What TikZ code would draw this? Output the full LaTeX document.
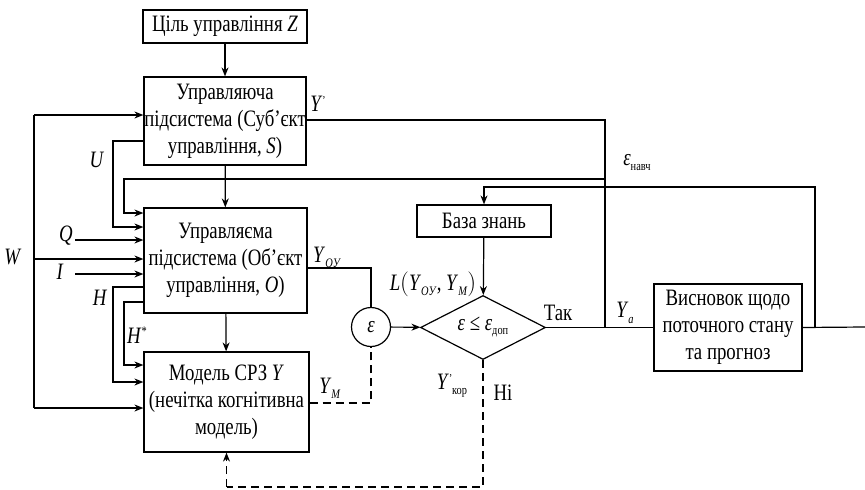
\documentclass[tikz,border=0pt]{standalone}
\usepackage{fontspec}
\setmainfont{Liberation Serif}[FakeStretch=0.8]
\usetikzlibrary{shapes.geometric,arrows.meta}
\begin{document}
\begin{tikzpicture}[x=1pt,y=-1pt,
  every node/.style={font=\fontsize{23.5}{27}\selectfont},
  blk/.style={draw,line width=1.2pt,inner sep=0pt,align=center},
  ln/.style={line width=1.2pt},
  arr/.style={line width=1.2pt,-{Stealth[length=9pt,width=7pt]}},
  dsh/.style={line width=1.2pt,dash pattern=on 8pt off 5pt},
  lbl/.style={inner sep=0pt}]
\useasboundingbox (0,0) rectangle (865,490);
% blocks
\node[blk,minimum width=164,minimum height=33] (goal) at (225,26.5) {Ціль управління \textit{Z}};
\node[blk,minimum width=162,minimum height=88] (S) at (225,121) {Управляюча\\підсистема (Суб’єкт\\управління, \textit{S})};
\node[blk,minimum width=163,minimum height=105] (O) at (225.5,260.5) {Управляєма\\підсистема (Об’єкт\\управління, \textit{O})};
\node[blk,minimum width=165,minimum height=100] (M) at (226.5,402) {Модель СРЗ \textit{Y}\\(нечітка когнітивна\\модель)};
\node[blk,minimum width=134,minimum height=32] (kb) at (484,221) {База знань};
\node[draw,line width=1.2pt,diamond,aspect=1.95,inner sep=0pt,minimum width=125,minimum height=64] (dec) at (483,327.5) {\textit{ε} ≤ \textit{ε}\raisebox{-4pt}{\fontsize{13}{15}\selectfont доп}};
\node[draw,line width=1.2pt,circle,inner sep=0pt,minimum size=39] (eps) at (371,327) {\textit{ε}};
\node[blk,minimum width=148,minimum height=87] (concl) at (728,327.5) {Висновок щодо\\поточного стану\\та прогноз};
% coordinates
\coordinate (w1) at (34,115);
\coordinate (w2) at (34,259);
\coordinate (w3) at (34,408);
\coordinate (u0) at (113,141);
\coordinate (u1) at (113,227);
\coordinate (f0) at (605,179);
\coordinate (f1) at (124,179);
\coordinate (f2) at (124,213);
\coordinate (q0) at (75,240);
\coordinate (i0) at (75,274);
\coordinate (h0) at (113,287);
\coordinate (h1) at (113,382);
\coordinate (hs0) at (124,302);
\coordinate (hs1) at (124,365);
\coordinate (y0) at (605,120);
\coordinate (ya) at (605,327);
\coordinate (yo) at (371,268);
\coordinate (ym) at (371,403);
\coordinate (n0) at (815,327);
\coordinate (n1) at (815,187);
\coordinate (n2) at (484,187);
\coordinate (out) at (865,327);
\coordinate (d0) at (483,487);
\coordinate (d1) at (226.5,487);
% connectors
\draw[arr] (goal) -- (S);
\draw[arr] (S) -- (O);
\draw[arr] (O) -- (M);
\draw[ln] (w1) -- (w3);
\draw[arr] (w1) -- (w1 -| S.west);
\draw[arr] (w2) -- (w2 -| O.west);
\draw[arr] (w3) -- (w3 -| M.west);
\draw[arr] (u0 -| S.west) -- (u0) -- (u1) -- (u1 -| O.west);
\draw[arr] (f0) -- (f1) -- (f2) -- (f2 -| O.west);
\draw[arr] (q0) -- (q0 -| O.west);
\draw[arr] (i0) -- (i0 -| O.west);
\draw[arr] (h0 -| O.west) -- (h0) -- (h1) -- (h1 -| M.west);
\draw[arr] (hs0 -| O.west) -- (hs0) -- (hs1) -- (hs1 -| M.west);
\draw[ln] (y0 -| S.east) -- (y0) -- (ya);
\draw[ln] (yo -| O.east) -- (yo) -- (eps.north);
\draw[dsh] (ym -| M.east) -- (ym) -- (eps.south);
\draw[arr] (eps) -- (dec);
\draw[arr] (kb) -- (dec);
\draw[arr] (n0) -- (n1) -- (n2) -- (kb);
\draw[ln] (dec.east) -- (concl.west);
\draw[ln] (concl.east) -- (out);
\draw[dsh] (dec.south) -- (d0) -- (d1);
\draw[dsh,-{Stealth[length=9pt,width=7pt]}] (d1) -- (M.south);
% labels
\node[lbl] (lY) at (318,104) {\textit{Y}\raisebox{7pt}{\fontsize{12}{14}\selectfont '}};
\node[lbl] (lU) at (97,160) {\textit{U}};
\node[lbl] (lQ) at (66,236) {\textit{Q}};
\node[lbl] (lW) at (13,257) {\textit{W}};
\node[lbl] (lI) at (60,272) {\textit{I}};
\node[lbl] (lH) at (100,298) {\textit{H}};
\node[lbl] (lHs) at (137,335) {\textit{H}\raisebox{8pt}{\fontsize{13}{15}\selectfont *}};
\node[lbl] (lYo) at (327,257) {\textit{Y}\raisebox{-5pt}{\fontsize{13}{15}\selectfont\textit{OУ}}};
\node[lbl] (lL) at (433,284) {\textit{L}$\Bigl($\textit{Y}\raisebox{-5pt}{\fontsize{13}{15}\selectfont\textit{OУ}}, \textit{Y}\raisebox{-5pt}{\fontsize{13}{15}\selectfont\textit{M}}$\Bigr)$};
\node[lbl] (lYm) at (330,388) {\textit{Y}\raisebox{-5pt}{\fontsize{13}{15}\selectfont\textit{M}}};
\node[lbl] (lYk) at (452,386) {\textit{Y}\raisebox{7pt}{\fontsize{12}{14}\selectfont '}\raisebox{-5pt}{\fontsize{13}{15}\selectfont кор}};
\node[lbl] (lN) at (503,393) {Ні};
\node[lbl] (lT) at (558,313) {Так};
\node[lbl] (lYa) at (625,313) {\textit{Y}\raisebox{-6pt}{\fontsize{13}{15}\selectfont\textit{a}}};
\node[lbl] (lE) at (637,163) {\textit{ε}\raisebox{-5pt}{\fontsize{13}{15}\selectfont навч}};
\end{tikzpicture}
\end{document}
